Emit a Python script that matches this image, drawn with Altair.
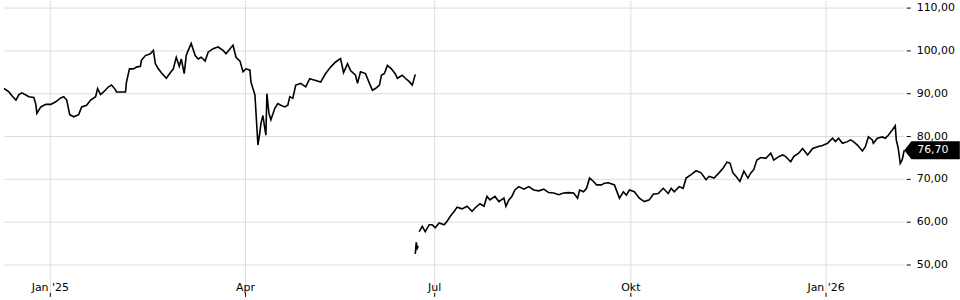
import altair as alt
import pandas as pd

# Price series (bar index -> price), three traded stretches
bars_a = [0,5,8,12,15,18,22,25,30,32,33,37,42,47,52,57,60,63,66,70,75,78,83,87,92,94,97,100,105,108,112,113,118,122,123,126,130,133,137,138,142,147,150,152,155,158,163,167,170,173,176,178,181,183,185,188,192,195,198,202,205,210,215,220,223,227,230,233,237,240,243,247,248,250,252,253,255,257,258,260,262,263,264,266,268,272,275,278,282,285,287,290,293,298,303,307,313,318,323,328,333,338,341,345,348,353,355,358,363,367,370,373,377,379,382,385,389,393,395,400,403,407,410,413]
vals_a = [91.1,90.3,89.4,88.4,89.7,90.1,89.6,89.2,89.0,87.4,85.3,86.8,87.4,87.4,88.0,88.9,89.2,88.4,85.0,84.5,85.0,86.8,87.2,88.4,89.2,91.1,89.7,90.3,91.5,91.9,90.8,90.3,90.3,90.3,92.6,95.7,95.7,96.1,96.3,97.7,98.8,99.2,100.0,96.9,95.7,94.8,93.5,94.8,95.7,98.4,96.3,98.0,94.6,98.8,100.0,101.6,98.8,98.0,98.4,97.5,99.6,100.4,100.8,100.0,99.2,100.4,101.2,98.4,97.5,95.0,95.7,95.4,92.6,91.1,89.6,85.7,77.9,81.0,82.9,84.8,81.6,80.2,89.9,85.4,83.8,86.5,87.6,87.2,86.8,87.2,89.2,88.8,91.9,92.3,91.5,93.4,93.0,92.6,94.6,96.1,97.3,98.1,94.8,96.9,95.3,94.2,92.3,95.0,94.6,92.3,90.7,91.1,91.9,94.2,94.6,96.5,95.7,94.5,93.5,94.2,93.5,92.7,91.9,94.4]

bars_b = [413, 414, 415, 416]
vals_b = [52.5, 55.2, 53.8, 54.3]

bars_c = [417,420,423,427,430,433,437,442,445,448,452,455,460,465,470,473,478,482,485,488,493,497,502,504,507,510,513,517,522,527,532,537,542,547,552,557,562,567,572,576,578,582,585,588,592,595,600,603,607,613,618,622,625,628,633,638,643,648,652,657,662,667,670,673,678,682,685,690,695,700,705,708,713,718,722,726,729,732,735,739,743,747,750,753,756,760,765,770,773,778,782,785,790,793,798,802,807,812,817,822,827,832,835,838,842,847,850,853,857,862,865,868,872,873,877,882,885,888,892,895,896,898,900,902,904]
vals_c = [57.7,58.9,57.7,59.3,59.3,58.6,59.7,59.3,60.1,61.2,62.4,63.4,63.0,63.6,62.4,63.2,64.2,63.6,65.9,65.1,65.9,64.7,65.5,63.6,65.1,65.9,67.4,68.2,67.6,68.2,67.4,67.2,67.6,66.8,66.7,66.3,66.7,66.8,66.7,65.5,67.4,67.0,67.8,70.2,69.4,68.6,68.6,69.0,69.1,68.6,65.5,67.0,66.2,67.4,67.0,65.5,64.7,65.1,66.4,66.6,67.8,66.6,67.8,67.0,68.2,67.8,70.2,71.0,71.9,71.4,69.8,70.6,70.2,71.4,72.5,73.9,73.7,71.4,70.6,69.4,71.8,70.2,71.4,72.2,74.4,75.0,74.8,76.0,74.4,75.2,75.6,75.2,74.0,75.2,76.0,77.1,75.6,77.1,77.5,77.8,78.3,79.5,78.7,79.5,78.3,78.7,79.1,78.7,77.9,76.5,77.5,79.8,79.1,78.3,79.5,79.8,79.5,80.2,81.4,82.4,79.1,77.1,73.6,74.5,76.7]

tick_bars = [46, 242, 432, 629, 825]
tick_labels = ["Jan '25", "Apr", "Jul", "Okt", "Jan '26"]
y_ticks = [50, 60, 70, 80, 90, 100, 110]

rows = []
for seg, (bs, vs) in enumerate([(bars_a, vals_a), (bars_b, vals_b), (bars_c, vals_c)]):
    for b, v in zip(bs, vs, strict=True):
        rows.append({"bar": b, "price": v, "seg": seg})
df = pd.DataFrame(rows)

last = pd.DataFrame([{
    "bar": bars_c[-1],
    "price": vals_c[-1],
    "label": f"{vals_c[-1]:.2f}".replace(".", ","),
}])

label_expr = ""
for b, l in zip(tick_bars, tick_labels):
    label_expr += f'datum.value == {b} ? "{l}" : '
label_expr += '""'

FONT = "DejaVu Sans"
GRID = "#dcdcdc"

x_enc = alt.X(
    "bar:Q",
    scale=alt.Scale(domain=[0, 904], nice=False, zero=False),
    axis=alt.Axis(
        values=tick_bars, labelExpr=label_expr, orient="bottom", title=None,
        grid=True, gridColor=GRID, gridWidth=1, domain=False,
        ticks=True, tickSize=4, tickColor="#000",
        labelPadding=-9, labelBaseline="middle", labelFlush=False,
        labelOverlap=False, labelFont=FONT, labelFontSize=11, labelColor="#000",
    ),
)
y_enc = alt.Y(
    "price:Q",
    scale=alt.Scale(domain=[43.49, 111.63], nice=False, zero=False),
    axis=alt.Axis(
        values=y_ticks, labelExpr="replace(format(datum.value, '.2f'), '.', ',')",
        orient="right", offset=2, title=None,
        grid=True, gridColor=GRID, gridWidth=1, domain=False,
        ticks=True, tickSize=4, tickColor="#000",
        labelPadding=6, labelBaseline="middle", labelFont=FONT,
        labelFontSize=11, labelColor="#000",
    ),
)

line = alt.Chart(df).mark_line(color="#000", strokeWidth=1.6).encode(
    x=x_enc, y=y_enc, detail="seg:N"
)

tag_shape = "M0,0L0.8,-1L6.2,-1L6.2,1L0.8,1Z"
tag = alt.Chart(last).mark_point(
    shape=tag_shape, size=324, filled=True, color="#000", opacity=1, strokeWidth=0
).encode(x=x_enc, y=y_enc)

tag_text = alt.Chart(last).mark_text(
    align="left", baseline="middle", dx=13, color="#fff", font=FONT, fontSize=11
).encode(x=x_enc, y=y_enc, text="label:N")

chart = alt.layer(line, tag, tag_text).properties(
    width=904, height=293, padding=0, background="#ffffff"
).configure_view(stroke=None)

chart.save("out.html", embed_options={"renderer": "svg", "actions": False})
